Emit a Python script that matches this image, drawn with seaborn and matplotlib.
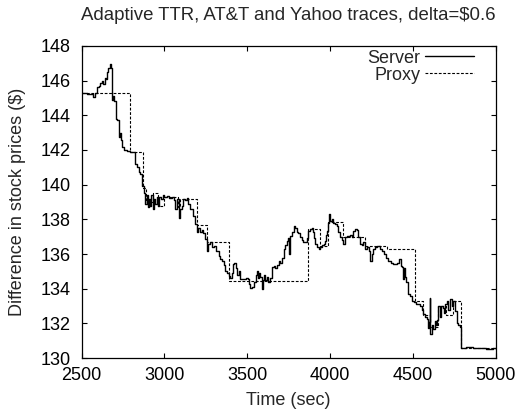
import matplotlib
matplotlib.use("Agg")
import matplotlib.pyplot as plt
import seaborn as sns
import pandas as pd

server_t = [2500, 2530, 2555, 2570, 2580, 2594, 2605, 2612, 2624, 2632, 2644, 2650, 2656, 2662, 2669,
            2675, 2681, 2685, 2690, 2695, 2705, 2712, 2720, 2725, 2732, 2738, 2745, 2755, 2775, 2795,
            2815, 2820, 2825, 2835, 2845, 2855, 2865, 2875, 2885, 2893, 2900, 2908, 2915, 2922, 2930,
            2938, 2945, 2955, 2962, 2970, 2980, 2990, 3000, 3015, 3030, 3045, 3055, 3065, 3075, 3086,
            3095, 3105, 3115, 3125, 3136, 3145, 3155, 3170, 3186, 3196, 3205, 3215, 3225, 3235, 3247,
            3257, 3265, 3275, 3285, 3297, 3310, 3327, 3337, 3347, 3357, 3367, 3377, 3387, 3395, 3405,
            3413, 3420, 3430, 3440, 3448, 3457, 3475, 3490, 3502, 3510, 3518, 3530, 3540, 3550, 3558,
            3565, 3570, 3578, 3588, 3595, 3602, 3610, 3618, 3625, 3635, 3649, 3660, 3670, 3680, 3689,
            3699, 3709, 3719, 3729, 3739, 3745, 3750, 3755, 3759, 3769, 3779, 3789, 3799, 3809, 3819,
            3829, 3839, 3849, 3859, 3869, 3879, 3889, 3895, 3902, 3910, 3920, 3930, 3940, 3950, 3960,
            3970, 3978, 3984, 3990, 3996, 4002, 4010, 4020, 4030, 4040, 4050, 4060, 4070, 4080, 4090,
            4100, 4110, 4120, 4130, 4140, 4150, 4160, 4170, 4181, 4190, 4200, 4211, 4225, 4235, 4241,
            4250, 4260, 4271, 4285, 4300, 4311, 4325, 4340, 4351, 4365, 4380, 4392, 4405, 4415, 4425,
            4432, 4438, 4445, 4452, 4460, 4472, 4482, 4492, 4505, 4520, 4532, 4545, 4555, 4562, 4572,
            4582, 4588, 4595, 4600, 4604, 4612, 4620, 4632, 4640, 4646, 4652, 4660, 4668, 4678, 4688,
            4695, 4705, 4713, 4723, 4733, 4743, 4753, 4763, 4773, 4783, 4787, 4820, 4860, 4900, 4940,
            4980, 5000]
server_v = [145.30, 145.25, 145.20, 145.05, 145.30, 145.65, 145.70, 145.85, 145.95, 145.80, 146.15, 146.10, 146.50, 146.70, 146.95,
            146.70, 146.40, 144.90, 145.10, 144.80, 143.80, 143.70, 143.75, 142.75, 142.95, 142.60, 142.15, 141.98, 141.95, 141.90,
            141.88, 141.50, 141.20, 141.00, 140.75, 140.60, 139.95, 139.50, 138.90, 139.40, 138.70, 139.20, 138.80, 139.40, 138.60,
            139.20, 138.90, 139.30, 138.80, 139.30, 139.20, 139.40, 139.30, 139.35, 139.25, 139.30, 139.10, 138.60, 139.20, 138.10,
            138.60, 138.80, 139.20, 139.10, 139.25, 138.90, 138.60, 138.20, 137.74, 137.26, 137.50, 137.30, 137.40, 137.20, 136.87,
            136.20, 136.60, 136.70, 136.40, 136.48, 136.20, 135.90, 135.70, 135.60, 135.40, 135.04, 134.90, 134.75, 134.60, 134.90,
            135.43, 135.50, 135.20, 134.80, 135.00, 134.56, 134.55, 134.60, 134.55, 134.30, 134.07, 134.10, 134.40, 134.80, 135.04,
            134.60, 134.90, 134.70, 133.98, 134.50, 134.80, 134.50, 134.70, 134.40, 134.60, 135.23, 135.30, 135.20, 135.40, 135.60,
            135.50, 135.80, 136.29, 136.50, 136.77, 136.90, 136.00, 136.90, 137.06, 137.30, 137.64, 137.50, 137.30, 137.20, 136.97,
            136.80, 136.67, 136.70, 136.90, 137.35, 137.45, 137.50, 137.30, 136.90, 136.58, 136.40, 136.29, 136.40, 136.50, 136.60,
            136.77, 137.10, 137.35, 137.80, 138.30, 137.90, 138.00, 137.80, 137.74, 137.60, 137.30, 136.97, 136.80, 136.60, 137.00,
            137.06, 137.06, 137.10, 137.00, 137.35, 137.45, 137.40, 137.00, 136.58, 136.50, 136.70, 136.29, 136.40, 136.20, 135.60,
            136.00, 136.30, 136.39, 136.48, 136.30, 136.20, 136.00, 135.80, 135.60, 135.50, 135.45, 135.43, 135.50, 135.70, 135.30,
            135.23, 134.56, 135.20, 134.70, 134.40, 133.69, 133.60, 133.30, 133.25, 133.15, 133.11, 133.00, 132.80, 132.53, 132.40,
            132.24, 131.76, 132.10, 133.49, 131.37, 131.90, 131.70, 132.14, 131.90, 132.20, 133.00, 132.40, 133.00, 132.90, 132.60,
            133.10, 133.30, 132.80, 133.40, 133.00, 133.30, 132.70, 132.05, 131.90, 131.80, 130.60, 130.62, 130.58, 130.60, 130.55,
            130.58, 130.55]

proxy_t = [2500, 2795, 2871, 2890, 2930, 2960, 3000, 3080, 3096, 3197, 3257, 3387, 3865, 3936, 3986,
           4076, 4211, 4341, 4512, 4560, 4600, 4650, 4700, 4740, 4787, 5000]
proxy_v = [145.30, 141.90, 139.80, 139.00, 139.50, 138.80, 139.30, 138.70, 139.20, 137.70, 136.67, 134.45, 137.45, 136.48, 137.83,
           136.96, 136.45, 136.32, 133.30, 132.50, 131.80, 133.00, 132.50, 133.30, 130.60, 130.60]

x_ticks = [2500, 3000, 3500, 4000, 4500, 5000]
y_ticks = [130, 132, 134, 136, 138, 140, 142, 144, 146, 148]

sns.set_style("ticks")
plt.rcParams['font.family'] = ['Liberation Sans', 'DejaVu Sans']

FS = 13

fig = plt.figure(figsize=(5.16, 4.17), dpi=100)
ax = fig.add_axes([0.158, 0.141, 0.803, 0.749])

df_s = pd.DataFrame({"t": server_t, "v": server_v})
df_p = pd.DataFrame({"t": proxy_t, "v": proxy_v})

sns.lineplot(data=df_s, x="t", y="v", ax=ax, color="black", linewidth=1.0,
             drawstyle="steps-post", label="Server", estimator=None, sort=False)
sns.lineplot(data=df_p, x="t", y="v", ax=ax, color="black", linewidth=0.8,
             drawstyle="steps-post", label="Proxy", estimator=None, sort=False,
             linestyle=(0, (2.5, 1.5)))

ax.set_xlim(2500, 5000)
ax.set_ylim(130, 148)
ax.set_xticks(x_ticks)
ax.set_yticks(y_ticks)
ax.tick_params(direction="in", top=True, right=True, length=3.6, width=0.8,
               labelsize=FS, colors="black")
ax.tick_params(axis="x", pad=6)
ax.tick_params(axis="y", pad=8)
for s in ax.spines.values():
    s.set_linewidth(0.9)
    s.set_color("black")

ax.set_xlabel("Time (sec)", fontsize=FS, va="center")
ax.xaxis.set_label_coords(0.5, -0.135)
ax.set_ylabel("Difference in stock prices ($)", fontsize=FS, va="center")
ax.yaxis.set_label_coords(-0.154, 0.5)
ax.set_title("Adaptive TTR, AT&T and Yahoo traces, delta=$0.6", fontsize=13.4,
             y=1.096, pad=0, va="center")

leg = ax.legend(loc="upper right", bbox_to_anchor=(0.947, 0.988), frameon=False,
                markerfirst=False, fontsize=FS, handlelength=2.7, borderpad=0,
                borderaxespad=0, labelspacing=0.0, handletextpad=0.25)
for t in leg.get_texts():
    t.set_ha("right")

fig.savefig("out.png", dpi=100)
